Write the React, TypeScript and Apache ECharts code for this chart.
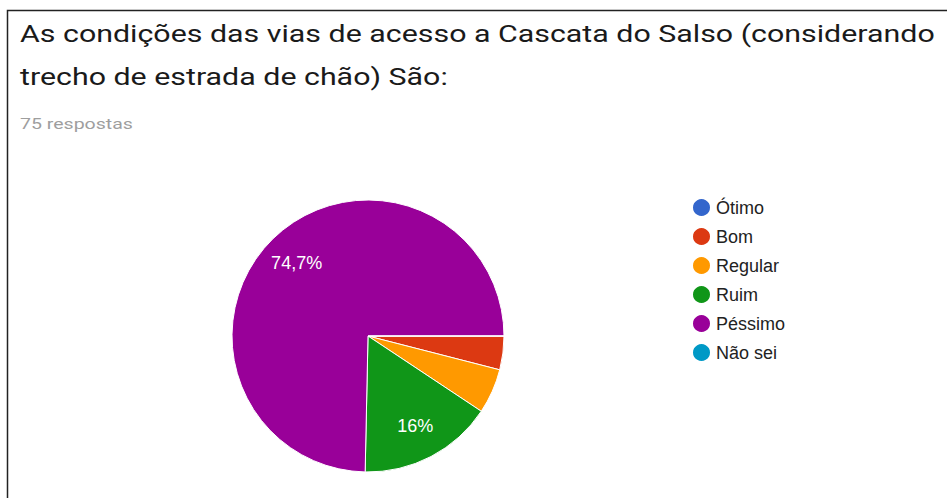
import React, { useEffect, useRef } from "react";
import * as echarts from "echarts";

const titleLines = [
  "As condições das vias de acesso a Cascata do Salso (considerando",
  "trecho de estrada de chão) São:",
];
const subtitle = "75 respostas";
const categories = ["Ótimo", "Bom", "Regular", "Ruim", "Péssimo", "Não sei"];
const counts = [0, 3, 4, 12, 56, 0];
const colors = ["#3366cc", "#dc3912", "#ff9900", "#109618", "#990099", "#0099c6"];

export default function App() {
  const ref = useRef<HTMLDivElement>(null);
  useEffect(() => {
    if (!ref.current) return;
    const chart = echarts.init(ref.current, null, { renderer: "svg" });
    const total = counts.reduce((a, b) => a + b, 0);
    const data = categories.map((name, i) => ({ name, value: counts[i] }));
    const fmt = (p: any) => {
      const pct = (p.value / total) * 100;
      if (pct < 10) return "";
      let s = pct.toFixed(1);
      if (s.endsWith(".0")) s = s.slice(0, -2);
      return s.replace(".", ",") + "%";
    };
    chart.setOption({
      animation: false,
      color: colors,
      graphic: [
        {
          type: "rect",
          shape: { x: 7.5, y: 10.5, width: 1000, height: 600 },
          style: { fill: "none", stroke: "#222", lineWidth: 1.5 },
          silent: true,
        },
        {
          type: "text",
          x: 20,
          y: 34.5,
          scaleX: 1.265,
          silent: true,
          style: {
            text: titleLines[0],
            font: "24px Roboto",
            fill: "#1a1a1a",
            verticalAlign: "middle",
            align: "left",
          },
        },
        {
          type: "text",
          x: 20,
          y: 77,
          scaleX: 1.265,
          silent: true,
          style: {
            text: titleLines[1],
            font: "24px Roboto",
            fill: "#1a1a1a",
            verticalAlign: "middle",
            align: "left",
          },
        },
        {
          type: "text",
          x: 20,
          y: 123.5,
          scaleX: 1.26,
          silent: true,
          style: {
            text: subtitle,
            font: "15.5px Roboto",
            fill: "#9e9e9e",
            verticalAlign: "middle",
            align: "left",
          },
        },
      ],
      legend: {
        orient: "vertical",
        left: 691,
        top: 197,
        padding: 0,
        itemWidth: 19,
        itemHeight: 19,
        itemGap: 8,
        icon: "circle",
        data: categories,
        selectedMode: false,
        textStyle: {
          fontFamily: "Liberation Sans, Arial",
          fontSize: 18,
          lineHeight: 19,
          color: "#222",
        },
      },
      series: [
        {
          type: "pie",
          center: [368, 336],
          radius: [0, 136],
          startAngle: 0,
          clockwise: true,
          avoidLabelOverlap: false,
          data,
          label: { show: false },
          labelLine: { show: false },
          itemStyle: { borderColor: "#fff", borderWidth: 1 },
          emphasis: { disabled: true },
          silent: true,
        },
        {
          type: "pie",
          center: [368, 336],
          radius: [62, 136],
          startAngle: 0,
          clockwise: true,
          avoidLabelOverlap: false,
          data,
          legendHoverLink: false,
          itemStyle: { color: "rgba(0,0,0,0)", borderWidth: 0 },
          label: {
            show: true,
            position: "inside",
            formatter: fmt,
            color: "#fff",
            fontFamily: "Liberation Sans, Arial",
            fontSize: 18,
            textBorderWidth: 0,
          },
          labelLine: { show: false },
          emphasis: { disabled: true },
          silent: true,
        },
      ],
    });
    return () => chart.dispose();
  }, []);
  return (
    <div
      ref={ref}
      style={{ position: "fixed", left: 0, top: 0, width: 947, height: 498, background: "#fff" }}
    />
  );
}
